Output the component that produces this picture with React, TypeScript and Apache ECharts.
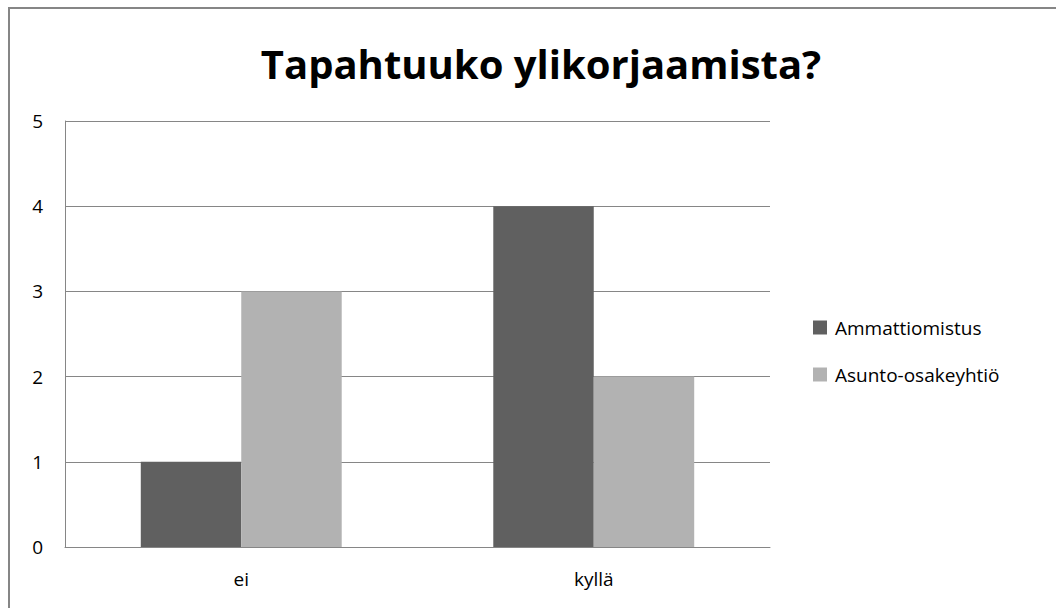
import React, { useEffect, useRef } from "react";
import * as echarts from "echarts";

const categories = ["ei", "kyllä"];
const seriesNames = ["Ammattiomistus", "Asunto-osakeyhtiö"];
const ammattiomistus = [1, 4];
const asuntoOsakeyhtio = [3, 2];
const yTicks = [0, 1, 2, 3, 4, 5];

const FONT = "'Open Sans', 'Noto Sans', sans-serif";

export default function App() {
  const ref = useRef<HTMLDivElement>(null);
  useEffect(() => {
    const chart = echarts.init(ref.current!, null, { renderer: "svg" });
    chart.setOption({
      animation: false,
      backgroundColor: "#ffffff",
      title: {
        text: "Tapahtuuko ylikorjaamista?",
        left: 536,
        top: 38,
        textAlign: "center",
        textStyle: { fontFamily: FONT, fontSize: 40, fontWeight: "bold", color: "#000000" },
      },
      graphic: [
        {
          type: "rect",
          shape: { x: 9, y: 8, width: 1100, height: 700 },
          style: { fill: "none", stroke: "#868686", lineWidth: 2 },
          silent: true,
        },
      ],
      legend: {
        orient: "vertical",
        left: 808,
        top: 313,
        itemWidth: 14,
        itemHeight: 14,
        itemGap: 28,
        icon: "rect",
        data: seriesNames,
        textStyle: { fontFamily: FONT, fontSize: 19, color: "#000000", padding: [0, 0, 0, 3] },
      },
      grid: { left: 65, top: 121, width: 705, height: 426, containLabel: false },
      xAxis: {
        type: "category",
        data: categories,
        axisLine: { show: true, lineStyle: { color: "#868686", width: 1 } },
        axisTick: { show: false },
        axisLabel: { fontFamily: FONT, fontSize: 19, color: "#000000", margin: 22 },
      },
      yAxis: {
        type: "value",
        min: yTicks[0],
        max: yTicks[yTicks.length - 1],
        interval: 1,
        axisLine: { show: true, lineStyle: { color: "#868686", width: 1 } },
        axisTick: { show: false },
        splitLine: { show: true, lineStyle: { color: "#868686", width: 1 } },
        axisLabel: { fontFamily: FONT, fontSize: 19, color: "#000000", margin: 22 },
      },
      series: [
        {
          name: seriesNames[0],
          type: "bar",
          data: ammattiomistus,
          itemStyle: { color: "#606060" },
          barGap: "0%",
          barCategoryGap: "43%",
        },
        {
          name: seriesNames[1],
          type: "bar",
          data: asuntoOsakeyhtio,
          itemStyle: { color: "#b2b2b2" },
          barGap: "0%",
          barCategoryGap: "43%",
        },
      ],
    });
    return () => chart.dispose();
  }, []);
  return (
    <div
      ref={ref}
      style={{ position: "fixed", left: 0, top: 0, width: 1056, height: 608 }}
    />
  );
}
